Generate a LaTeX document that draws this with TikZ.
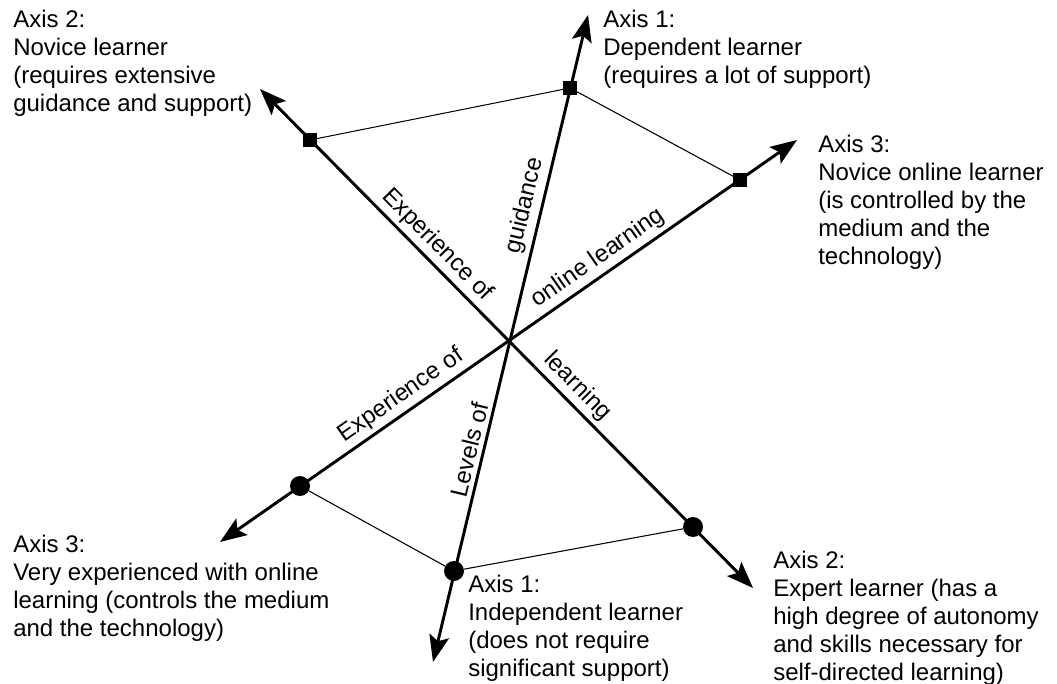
\documentclass[tikz,border=0pt]{standalone}
\usepackage{fontspec}
\setmainfont{Liberation Sans}
\usetikzlibrary{arrows.meta}

\begin{document}
\begin{tikzpicture}[x=0.75pt,y=-0.75pt,
  >={Stealth[length=20pt,width=15pt,inset=4pt]},
  axisline/.style={line width=2.2pt,<->},
  link/.style={line width=0.8pt},
  sqmark/.style={rectangle,fill,inner sep=0pt,minimum size=10pt},
  dotmark/.style={circle,fill,inner sep=0pt,minimum size=15pt},
  pole/.style={anchor=north west,align=left,inner sep=0pt,font=\fontsize{18}{21}\selectfont},
  axislabel/.style={sloped,above,inner sep=3pt,font=\fontsize{18}{21}\selectfont}]
 \useasboundingbox (0,0) rectangle (1057,684);
 % axis ends
 \coordinate (a1lo) at (433,662); \coordinate (a1hi) at (588,15);
 \coordinate (a2lo) at (260,89);  \coordinate (a2hi) at (753,588);
 \coordinate (a3lo) at (220,542); \coordinate (a3hi) at (797,140);
 % axes
 \draw[axisline] (a1lo) -- node[axislabel,pos=.323]{Levels of} node[axislabel,pos=.699]{guidance} (a1hi);
 \draw[axisline] (a2lo) -- node[axislabel,pos=.336]{Experience of} node[axislabel,pos=.620]{learning} (a2hi);
 \draw[axisline] (a3lo) -- node[axislabel,pos=.330]{Experience of} node[axislabel,pos=.672]{online learning} (a3hi);
 % markers
 \node[sqmark] (nov1) at (570,88) {};
 \node[sqmark] (nov2) at (310,140) {};
 \node[sqmark] (nov3) at (740,180) {};
 \node[dotmark] (exp1) at (454,571) {};
 \node[dotmark] (exp2) at (693,527) {};
 \node[dotmark] (exp3) at (300,486) {};
 \draw[link] (nov2) -- (nov1) -- (nov3);
 \draw[link] (exp3) -- (exp1) -- (exp2);
 % pole texts
 \node[pole] (p2hi) at (13,10) {Axis 2:\\Novice learner\\(requires extensive\\guidance and support)};
 \node[pole] (p1hi) at (603,10) {Axis 1:\\Dependent learner\\(requires a lot of support)};
 \node[pole] (p3hi) at (818,135) {Axis 3:\\Novice online learner\\(is controlled by the\\medium and the\\technology)};
 \node[pole] (p3lo) at (13,535) {Axis 3:\\Very experienced with online\\learning (controls the medium\\and the technology)};
 \node[pole] (p1lo) at (468,575) {Axis 1:\\Independent learner\\(does not require\\significant support)};
 \node[pole] (p2lo) at (773,551) {Axis 2:\\Expert learner (has a\\high degree of autonomy\\and skills necessary for\\self-directed learning)};
\end{tikzpicture}
\end{document}
